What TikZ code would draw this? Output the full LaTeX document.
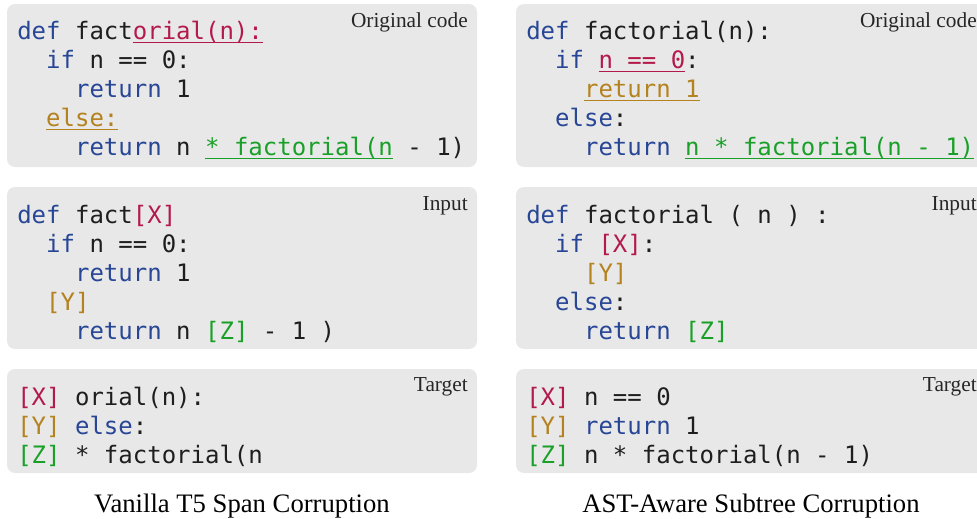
\documentclass[tikz,border=0pt]{standalone}
\usepackage{fontspec}
\setmainfont{Liberation Serif}
\setmonofont{DejaVu Sans Mono}
\usepackage{tikz}
\usetikzlibrary{calc,positioning}
\definecolor{kwblue}{RGB}{40,70,150}
\definecolor{cx}{RGB}{180,25,75}
\definecolor{cy}{RGB}{180,130,30}
\definecolor{cz}{RGB}{25,160,40}
\definecolor{codeblack}{RGB}{30,30,30}
\definecolor{panelgray}{RGB}{232,232,232}
\newcommand\kw[1]{{\color{kwblue}#1}}
\newcommand\indt{\phantom{xx}}
\newcommand\spanu[2]{{\color{#1}\setbox0\hbox{#2}\rlap{\rule[-3pt]{\wd0}{0.8pt}}\box0}}
\newcommand\mk[2]{{\color{#1}#2}}
\tikzset{
  panel/.style={fill=panelgray,draw=none,rounded corners=6pt},
  code/.style={anchor=base west,inner sep=0pt,text=codeblack,font=\fontsize{18}{22}\selectfont\ttfamily},
  tag/.style={anchor=base east,inner sep=0pt,text=black!85,font=\fontsize{16}{18}\selectfont},
  caption/.style={anchor=base,inner sep=0pt,font=\fontsize{20}{24}\selectfont}
}

\begin{document}
\begin{tikzpicture}[x=0.75pt,y=-0.75pt]
\useasboundingbox (0,0) rectangle (977,518);
\path[panel] (7,4) rectangle (477,167);
\path[panel] (7,187) rectangle (477,349);
\path[panel] (7,369) rectangle (477,473);
\path[panel] (516,4) rectangle (986,167);
\path[panel] (516,187) rectangle (986,349);
\path[panel] (516,369) rectangle (986,473);

\node[tag] (tagol) at (468,27) {Original code};
\node[tag] (tagil) at (468,210) {Input};
\node[tag] (tagtl) at (468,391) {Target};
\node[tag] (tagor) at (977,27) {Original code};
\node[tag] (tagir) at (977,210) {Input};
\node[tag] (tagtr) at (977,391) {Target};

\foreach \ln [count=\i] in {
  {\kw{def} fact\spanu{cx}{orial(n):}},
  {\indt\kw{if} n == 0:},
  {\indt\indt\kw{return} 1},
  {\indt\spanu{cy}{else:}},
  {\indt\indt\kw{return} n \spanu{cz}{* factorial(n} - 1)}}
  \node[code] (vo\i) at (17,{39+29*(\i-1)}) {\ln};

\foreach \ln [count=\i] in {
  {\kw{def} fact\mk{cx}{[X]}},
  {\indt\kw{if} n == 0:},
  {\indt\indt\kw{return} 1},
  {\indt\mk{cy}{[Y]}},
  {\indt\indt\kw{return} n \mk{cz}{[Z]} - 1 )}}
  \node[code] (vi\i) at (17,{223+29*(\i-1)}) {\ln};

\foreach \ln [count=\i] in {
  {\mk{cx}{[X]} orial(n):},
  {\mk{cy}{[Y]} \kw{else}:},
  {\mk{cz}{[Z]} * factorial(n}}
  \node[code] (vt\i) at (17,{405+29*(\i-1)}) {\ln};

\foreach \ln [count=\i] in {
  {\kw{def} factorial(n):},
  {\indt\kw{if} \spanu{cx}{n == 0}:},
  {\indt\indt\spanu{cy}{return 1}},
  {\indt\kw{else}:},
  {\indt\indt\kw{return} \spanu{cz}{n * factorial(n - 1)}}}
  \node[code] (ao\i) at (526,{39+29*(\i-1)}) {\ln};

\foreach \ln [count=\i] in {
  {\kw{def} factorial ( n ) :},
  {\indt\kw{if} \mk{cx}{[X]}:},
  {\indt\indt\mk{cy}{[Y]}},
  {\indt\kw{else}:},
  {\indt\indt\kw{return} \mk{cz}{[Z]}}}
  \node[code] (ai\i) at (526,{223+29*(\i-1)}) {\ln};

\foreach \ln [count=\i] in {
  {\mk{cx}{[X]} n == 0},
  {\mk{cy}{[Y]} \kw{return} 1},
  {\mk{cz}{[Z]} n * factorial(n - 1)}}
  \node[code] (at\i) at (526,{405+29*(\i-1)}) {\ln};

\node[caption] (capl) at (242,512) {Vanilla T5 Span Corruption};
\node[caption] (capr) at (751,512) {AST-Aware Subtree Corruption};
\end{tikzpicture}
\end{document}
